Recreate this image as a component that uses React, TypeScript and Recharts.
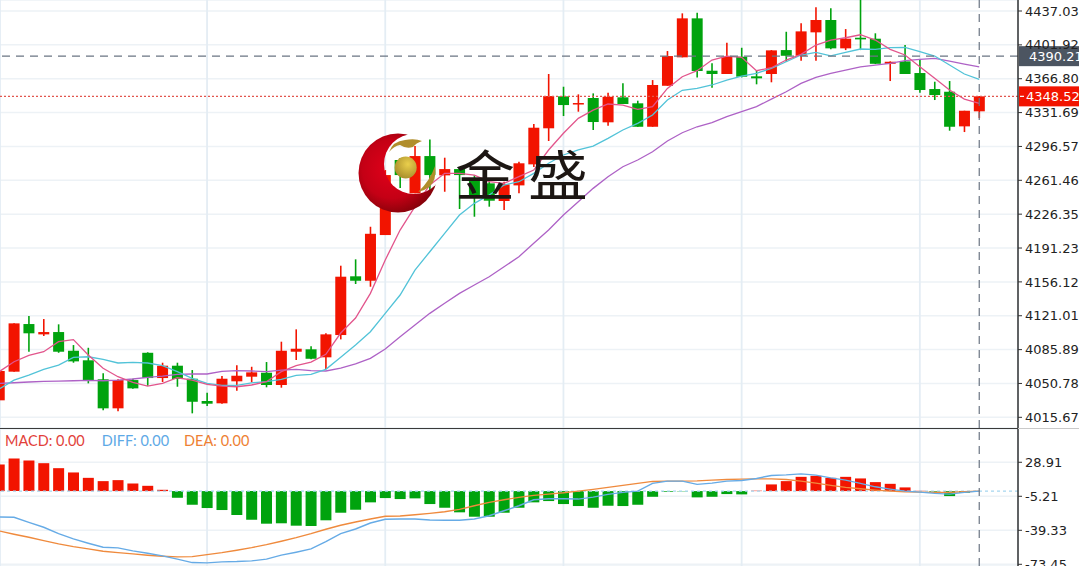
import { Bar, CartesianGrid, Cell, ComposedChart, Line, ReferenceLine, XAxis, YAxis } from 'recharts';

const opens = [
  4033.3, 4063.0, 4112.4, 4101.7, 4104.1, 4084.7, 4074.8, 4055.1, 4025.0, 4054.3,
  4082.6, 4056.4, 4069.2, 4055.7, 4032.6, 4030.2, 4053.0, 4057.8, 4061.9, 4049.2,
  4083.7, 4086.2, 4077.9, 4101.0, 4161.9, 4157.3, 4204.7, 4282.5, 4248.0, 4286.6,
  4266.6, 4273.1, 4261.7, 4258.3, 4240.0, 4256.2, 4278.0, 4315.4, 4348.5, 4340.6,
  4346.8, 4321.6, 4347.5, 4341.3, 4317.0, 4359.5, 4389.0, 4429.4, 4375.1, 4371.7,
  4389.6, 4369.3, 4371.7, 4396.5, 4390.6, 4414.9, 4427.7, 4398.3, 4409.3, 4408.3,
  4382.3, 4384.8, 4372.7, 4356.1, 4353.3, 4317.4, 4333.0,
];
const closes = [
  4063.7, 4113.1, 4102.8, 4104.1, 4083.7, 4073.7, 4054.3, 4025.0, 4054.3, 4045.7,
  4056.4, 4069.2, 4055.4, 4031.8, 4029.8, 4055.7, 4058.8, 4062.3, 4049.2, 4084.7,
  4086.8, 4076.4, 4101.7, 4161.5, 4157.3, 4206.0, 4266.9, 4266.9, 4286.6, 4266.9,
  4273.1, 4266.9, 4244.1, 4240.3, 4257.3, 4279.1, 4316.0, 4348.8, 4339.5, 4341.6,
  4321.9, 4348.1, 4340.6, 4317.0, 4360.3, 4390.3, 4429.4, 4374.8, 4371.7, 4389.6,
  4368.9, 4367.2, 4396.2, 4390.6, 4415.9, 4427.7, 4398.3, 4408.3, 4407.6, 4382.3,
  4384.4, 4371.7, 4355.1, 4349.9, 4317.0, 4333.6, 4348.52,
];
const highs = [
  4063.7, 4113.1, 4120.7, 4117.6, 4112.1, 4090.6, 4087.8, 4061.3, 4055.1, 4055.7,
  4083.1, 4072.3, 4072.3, 4064.7, 4041.2, 4058.5, 4069.6, 4068.1, 4073.0, 4094.1,
  4106.9, 4089.3, 4102.8, 4172.9, 4179.5, 4213.3, 4272.1, 4284.6, 4297.0, 4303.9,
  4284.9, 4274.2, 4266.9, 4261.7, 4260.0, 4280.7, 4319.8, 4371.7, 4358.5, 4350.6,
  4351.6, 4352.3, 4362.0, 4344.0, 4365.4, 4395.5, 4434.6, 4435.2, 4382.8, 4404.1,
  4398.9, 4375.1, 4396.5, 4415.5, 4424.2, 4440.8, 4439.8, 4418.3, 4453.6, 4413.9,
  4384.8, 4401.7, 4386.9, 4363.7, 4364.4, 4333.6, 4348.8,
];
const lows = [
  4033.3, 4063.0, 4083.7, 4100.0, 4082.6, 4072.3, 4050.9, 4022.9, 4021.9, 4045.3,
  4048.4, 4052.3, 4047.4, 4019.8, 4027.4, 4029.8, 4043.2, 4052.0, 4046.8, 4046.4,
  4075.1, 4075.8, 4065.7, 4096.5, 4153.9, 4151.1, 4204.7, 4253.4, 4248.0, 4251.4,
  4249.6, 4231.7, 4223.7, 4234.1, 4230.6, 4248.0, 4275.2, 4302.2, 4328.1, 4332.6,
  4313.6, 4318.0, 4340.6, 4317.0, 4317.0, 4359.5, 4389.0, 4368.2, 4357.5, 4371.7,
  4368.2, 4361.0, 4363.1, 4384.4, 4385.5, 4385.5, 4397.3, 4396.5, 4396.5, 4382.0,
  4364.4, 4371.7, 4352.3, 4344.7, 4312.9, 4311.5, 4326.0,
];
const ma5 = [
  4063.0, 4073.3, 4079.9, 4083.7, 4094.1, 4096.2, 4080.3, 4066.5, 4057.8, 4052.0,
  4048.1, 4050.9, 4056.7, 4054.3, 4049.9, 4048.1, 4047.4, 4049.2, 4052.6, 4063.0,
  4069.2, 4073.0, 4081.0, 4103.1, 4118.6, 4144.2, 4178.8, 4209.9, 4234.1, 4256.6,
  4268.7, 4268.7, 4266.9, 4260.0, 4258.3, 4265.2, 4272.1, 4292.9, 4310.2, 4325.7,
  4334.3, 4340.6, 4339.5, 4335.1, 4337.8, 4356.8, 4368.9, 4375.1, 4386.2, 4390.3,
  4389.0, 4375.1, 4378.2, 4386.2, 4392.1, 4401.7, 4406.9, 4409.3, 4412.4, 4406.9,
  4397.3, 4391.4, 4379.2, 4367.2, 4355.1, 4345.7, 4341.3,
];
const ma10 = [
  4045.0, 4054.3, 4059.5, 4065.4, 4069.9, 4077.9, 4078.5, 4075.8, 4072.0, 4072.7,
  4072.0, 4069.2, 4063.0, 4056.1, 4050.9, 4048.8, 4048.8, 4051.5, 4052.6, 4055.1,
  4059.2, 4060.3, 4065.4, 4077.9, 4090.6, 4104.4, 4123.5, 4142.5, 4168.4, 4187.4,
  4206.5, 4225.4, 4237.6, 4246.2, 4256.6, 4260.0, 4268.7, 4279.1, 4287.7, 4292.9,
  4297.0, 4305.0, 4313.6, 4320.5, 4329.1, 4344.7, 4354.8, 4356.8, 4360.3, 4365.4,
  4369.6, 4372.4, 4377.6, 4384.4, 4391.4, 4394.2, 4390.6, 4394.2, 4397.6, 4397.3,
  4399.0, 4399.3, 4394.8, 4390.3, 4381.0, 4371.7, 4366.2,
];
const ma20 = [
  4050.9, 4051.5, 4052.3, 4053.0, 4053.3, 4053.6, 4054.0, 4053.6, 4054.3, 4055.4,
  4057.1, 4058.5, 4060.3, 4060.6, 4060.6, 4063.4, 4064.0, 4063.7, 4063.0, 4064.7,
  4065.4, 4064.0, 4063.7, 4066.8, 4071.0, 4076.8, 4086.5, 4099.2, 4111.4, 4123.5,
  4133.9, 4144.2, 4152.9, 4161.5, 4171.8, 4182.2, 4196.1, 4209.9, 4225.4, 4239.2,
  4253.1, 4265.2, 4275.5, 4282.5, 4291.1, 4302.2, 4310.8, 4317.0, 4321.2, 4327.4,
  4332.6, 4337.8, 4345.7, 4353.3, 4362.0, 4368.2, 4372.4, 4375.8, 4379.2, 4381.0,
  4382.8, 4385.5, 4386.9, 4388.0, 4385.1, 4382.0, 4379.0,
];
const macd = [
  26.7, 32.7, 30.7, 28, 23, 18.7, 13.3, 10, 11, 7.7,
  5.3, 1.3, -6.7, -13.7, -17, -19, -24, -28.7, -32.7, -32.3,
  -34.7, -35, -29.3, -21.7, -18.7, -11.3, -7, -8, -7.3, -13,
  -16.7, -21.3, -25.7, -25.7, -21.7, -16.7, -11.3, -10, -13, -15,
  -16.7, -14.7, -15, -13.7, -5.7, -0.7, -0.3, -6.3, -5.7, -3,
  -3.3, 0.4, 6.7, 10, 14.3, 15.3, 13.3, 14.3, 12.7, 9,
  7.3, 3.7, 0.3, -0.7, -5, -1.7, 0,
];
const diff = [
  -26, -26.3, -31.3, -36.3, -42.7, -48, -52.3, -56.3, -57, -60,
  -62.3, -65, -68.3, -71.7, -72, -71, -70.7, -70, -68.3, -64.3,
  -61.3, -58, -50.7, -42.7, -38, -32, -28.3, -28, -28, -29,
  -29.3, -29.3, -28, -24.7, -19.7, -14.7, -8.7, -7.7, -7.7, -8,
  -6, -3.3, -1.3, 0, 7.7, 10, 10, 6.7, 8, 10,
  10.7, 12.7, 15.7, 16.3, 17.3, 16, 13.3, 11, 7.7, 4.3,
  2, 0, -1, -2.3, -3, -1.3, 0,
];
const dea = [
  -40, -43.3, -46.3, -49.7, -53, -55.7, -58, -60.3, -61.7, -63,
  -64.3, -65.3, -66, -65.7, -63.7, -61.7, -59.3, -56.7, -53.7, -50.3,
  -46.7, -42.7, -38.3, -34.3, -31, -28, -25.3, -25, -23.7, -22.3,
  -20.7, -18.3, -14.7, -11.3, -8.7, -6.3, -4.3, -3, -1.7, 0,
  1.7, 3.7, 5.7, 7.7, 9.7, 10, 10, 10.3, 11, 11.7,
  12, 12.3, 12.3, 11.7, 10, 8, 5.7, 3.7, 2.3, 1,
  0, -0.7, -1, -1.3, -1.3, -0.7, 0,
];

const priceTicks = [4437.03, 4401.92, 4366.8, 4331.69, 4296.57, 4261.46, 4226.35, 4191.23, 4156.12, 4121.01, 4085.89, 4050.78, 4015.67];
const macdTicks = [28.91, -5.21, -39.33, -73.45];
const gridIndexes = [14, 26, 38, 50, 62];
const lastIndex = 66;
const askPrice = 4390.21;
const lastPrice = 4348.52;

const RED = '#f21400';
const GREEN = '#00a30e';
const GRID = '#edf2f6';
const GRID_V = '#e4edf4';
const CROSS = '#6b7583';
const AXIS_FONT = { fontFamily: 'DejaVu Sans', fontSize: 13, fill: '#222' };

const priceData = opens.map((open, i) => ({
  idx: i,
  open,
  close: closes[i],
  high: highs[i],
  low: lows[i],
  range: [lows[i], highs[i]],
  ma5: ma5[i],
  ma10: ma10[i],
  ma20: ma20[i],
}));
const macdData = macd.map((value, i) => ({ idx: i, macd: value, diff: diff[i], dea: dea[i] }));

function Candle(props: any) {
  const { x, y, width, height, payload } = props;
  const { open, close, high, low } = payload;
  const k = height / (high - low);
  const top = y + (high - Math.max(open, close)) * k;
  const bodyH = Math.max(Math.abs(open - close) * k, 1.5);
  const color = close >= open ? RED : GREEN;
  const cx = x + width / 2;
  return (
    <g>
      <line x1={cx} x2={cx} y1={y} y2={y + height} stroke={color} strokeWidth={1.6} />
      <rect x={x} y={top} width={width} height={bodyH} fill={color} />
    </g>
  );
}

function PriceTag({ viewBox, value, fill, dash }: any) {
  const y = viewBox.y;
  const left = viewBox.x + viewBox.width + 1;
  return (
    <g>
      <rect x={left} y={y - 10} width={61} height={20} fill={fill} />
      {dash && <line x1={left + 1} x2={left + 5} y1={y} y2={y} stroke="#fff" strokeWidth={1.2} />}
      <text x={left + (dash ? 7 : 10)} y={y + 5} fontFamily="DejaVu Sans" fontSize={13} fill="#fff">
        {value.toFixed(2)}
      </text>
    </g>
  );
}

function Logo() {
  return (
    <svg width={1079} height={566} style={{ position: 'absolute', left: 0, top: 0 }}>
      <defs>
        <radialGradient id="moon" cx="0.42" cy="0.45" r="0.62">
          <stop offset="0" stopColor="#e2001a" />
          <stop offset="0.6" stopColor="#c40015" />
          <stop offset="1" stopColor="#7c0208" />
        </radialGradient>
        <radialGradient id="ball" cx="0.6" cy="0.35" r="0.75">
          <stop offset="0" stopColor="#eacf4c" />
          <stop offset="1" stopColor="#a28728" />
        </radialGradient>
        <mask id="cut">
          <rect width={1079} height={566} fill="#fff" />
          <circle cx={414} cy={164} r={30} fill="#000" />
        </mask>
      </defs>
      <circle cx={398} cy={173} r={39.5} fill="url(#moon)" mask="url(#cut)" />
      <circle cx={405.7} cy={167.5} r={11} fill="url(#ball)" />
      <path d="M389 152 Q393 141 405 140 Q415 138 422 141 Q416 143 413 147 Q406 149 400 145 Q394 146 389 152 Z" fill="#b08e2c" />
      <path d="M418 192 Q430 181 435 166 Q437 181 429 187 Q424 191 418 192 Z" fill="#b08e2c" />
      <text transform="translate(455 196) scale(1 0.9)" fontFamily="Noto Sans CJK SC" fontSize={60} fontWeight={400} letterSpacing={13} fill="#1c1613">
        金盛
      </text>
    </svg>
  );
}

export default function App() {
  return (
    <div style={{ position: 'absolute', left: 0, top: 0, width: 1079, height: 566, overflow: 'hidden', background: '#fff' }}>
      <ComposedChart width={1079} height={428} data={priceData} margin={{ top: 0, right: 0, bottom: 0, left: 0 }} barCategoryGap={0}>
        <XAxis dataKey="idx" type="number" domain={[0.057, 68.61]} allowDataOverflow hide ticks={gridIndexes} interval={0} />
        <YAxis
          orientation="right"
          width={61}
          domain={[4004.6, 4448.44]}
          allowDataOverflow
          ticks={priceTicks}
          interval={0}
          tick={AXIS_FONT}
          tickFormatter={(v: number) => v.toFixed(2)}
          tickSize={4}
          tickMargin={3}
          tickLine={{ stroke: '#333' }}
          axisLine={{ stroke: '#333', strokeWidth: 1.5 }}
        />
        <CartesianGrid vertical={false} stroke={GRID} strokeWidth={1.5} />
        <CartesianGrid horizontal={false} stroke={GRID_V} strokeWidth={1.8} />
        <Bar dataKey="range" barSize={11} shape={<Candle />} isAnimationActive={false} />
        <Line dataKey="ma20" stroke="#ae62c6" strokeWidth={1.3} dot={false} isAnimationActive={false} />
        <Line dataKey="ma10" stroke="#52c3d8" strokeWidth={1.3} dot={false} isAnimationActive={false} />
        <Line dataKey="ma5" stroke="#e2558c" strokeWidth={1.3} dot={false} isAnimationActive={false} />
        <ReferenceLine y={askPrice} stroke={CROSS} strokeWidth={1.2} strokeDasharray="8 6" label={<PriceTag value={askPrice} fill="#4c5561" />} />
        <ReferenceLine y={lastPrice} stroke="#e2564e" strokeWidth={1.2} strokeDasharray="2 2" label={<PriceTag value={lastPrice} fill={RED} dash />} />
        <ReferenceLine x={lastIndex} stroke={CROSS} strokeWidth={1.2} strokeDasharray="8 6" />
      </ComposedChart>
      <div style={{ position: 'absolute', left: 0, top: 428, width: 1018, height: 1, background: '#3a3a3a' }} />
      <div style={{ position: 'absolute', left: 1018, top: 428, width: 61, height: 1, background: '#c9c9c9' }} />
      <div style={{ position: 'absolute', left: 0, top: 429 }}>
        <ComposedChart width={1079} height={137} data={macdData} margin={{ top: 0, right: 0, bottom: 0, left: 0 }}>
          <XAxis dataKey="idx" type="number" domain={[0.057, 68.61]} allowDataOverflow hide ticks={gridIndexes} interval={0} />
          <YAxis
            orientation="right"
            width={61}
            domain={[-75.15, 62.3]}
            allowDataOverflow
            ticks={macdTicks}
            interval={0}
            tick={AXIS_FONT}
            tickFormatter={(v: number) => v.toFixed(2)}
            tickSize={4}
            tickMargin={3}
            tickLine={{ stroke: '#333' }}
            axisLine={{ stroke: '#333', strokeWidth: 1.5 }}
          />
          <CartesianGrid vertical={false} stroke={GRID} strokeWidth={1.5} />
          <CartesianGrid horizontal={false} stroke={GRID_V} strokeWidth={1.8} />
          <ReferenceLine y={0} stroke="#a5d6ef" strokeWidth={1.2} strokeDasharray="3 3" />
          <Bar dataKey="macd" barSize={11} isAnimationActive={false}>
            {macd.map((value, i) => (
              <Cell key={i} fill={value >= 0 ? RED : GREEN} />
            ))}
          </Bar>
          <Line dataKey="dea" stroke="#ef8a3d" strokeWidth={1.4} dot={false} isAnimationActive={false} />
          <Line dataKey="diff" stroke="#66abe6" strokeWidth={1.4} dot={false} isAnimationActive={false} />
          <ReferenceLine x={lastIndex} stroke={CROSS} strokeWidth={1.2} strokeDasharray="8 6" />
        </ComposedChart>
      </div>
      <div style={{ position: 'absolute', left: 5, top: 432, fontFamily: 'Lato', fontSize: 14.5, whiteSpace: 'nowrap' }}>
        <span style={{ color: '#e2413a' }}>MACD: 0.00</span>
        <span style={{ color: '#5ea9e6', marginLeft: 17 }}>DIFF: 0.00</span>
        <span style={{ color: '#ee7f33', marginLeft: 15 }}>DEA: 0.00</span>
      </div>
      <Logo />
    </div>
  );
}
